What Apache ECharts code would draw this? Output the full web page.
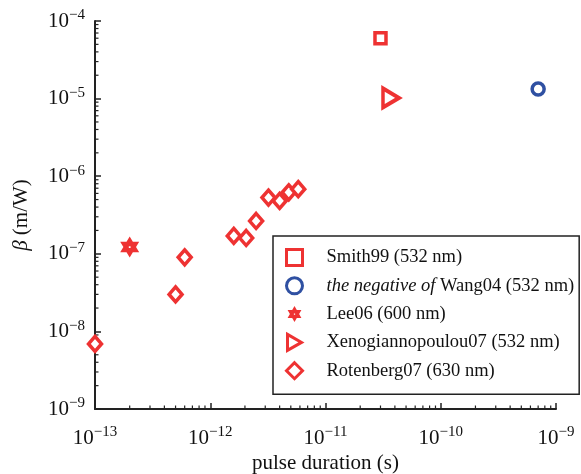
<!DOCTYPE html>
<html>
<head>
<meta charset="utf-8">
<script src="https://cdn.jsdelivr.net/npm/echarts@6/dist/echarts.min.js"></script>
<style>
  html, body { margin: 0; padding: 0; background: #fff; }
  #main { width: 581px; height: 474px; }
</style>
</head>
<body>
<div id="main"></div>
<script>
// pulse duration (s) vs beta (m/W)
var smith99 = [[3.0e-11, 6.0e-5]];
var wang04 = [[7.0e-10, 1.33e-5]];
var lee06 = [[2.0e-13, 1.22e-7]];
var xeno07 = [[3.7e-11, 1.02e-5]];
var rotenberg07 = [
    [1.0e-13, 6.9e-9],
    [5.0e-13, 3.0e-8],
    [6.0e-13, 9.0e-8],
    [1.6e-12, 1.7e-7],
    [2.05e-12, 1.6e-7],
    [2.5e-12, 2.65e-7],
    [3.2e-12, 5.3e-7],
    [4.0e-12, 4.8e-7],
    [4.8e-12, 6.2e-7],
    [5.8e-12, 6.8e-7]
];
var seriesNames = ['Smith99 (532 nm)', 'the negative of Wang04 (532 nm)', 'Lee06 (600 nm)',
    'Xenogiannopoulou07 (532 nm)', 'Rotenberg07 (630 nm)'];
var xMin = 1e-13, xMax = 1e-9, yMin = 1e-9, yMax = 1e-4;
// minor log ticks: decades x multipliers
var xDecades = [1e-13, 1e-12, 1e-11, 1e-10];
var yDecades = [1e-9, 1e-8, 1e-7, 1e-6, 1e-5];
var minorMult = [2, 3, 4, 5, 6, 7, 8, 9];

var red = '#ee3232';
var blue = '#2f50a2';
var serif = 'Liberation Serif';
var hexagram = 'path://M10 0 L12.89 5 L18.66 5 L15.77 10 L18.66 15 L12.89 15 L10 20 L7.11 15 L1.34 15 L4.23 10 L1.34 5 L7.11 5 Z M9.2 9.2 L9.2 10.8 L10.8 10.8 L10.8 9.2 Z';
var triRight = 'path://M0 0 L14 8 L0 16 Z';

var xMinor = [], yMinor = [];
xDecades.forEach(function (d) { minorMult.forEach(function (m) { xMinor.push([d * m, yMin]); }); });
yDecades.forEach(function (d) { minorMult.forEach(function (m) { yMinor.push([xMin, d * m]); }); });

function powLabel(v) {
    var e = Math.round(Math.log10(v));
    return '{b|10}{s|' + (e < 0 ? '\u2212' : '') + Math.abs(e) + '}';
}
var labelRich = {
    b: { fontFamily: serif, fontSize: 21, lineHeight: 26, color: '#111' },
    s: { fontFamily: serif, fontSize: 15, lineHeight: 19, color: '#111', verticalAlign: 'top' }
};

var legendData = seriesNames.map(function (n) {
    // the star keeps its own filled look in the legend
    return n.indexOf('Lee06') === 0 ? { name: n, itemStyle: { borderWidth: 0 } } : { name: n };
});

var myChart = echarts.init(document.getElementById('main'), null, { renderer: 'canvas' });

myChart.setOption({
    backgroundColor: '#fff',
    animation: false,
    grid: { left: 95, right: 25, top: 21, bottom: 65, outerBoundsMode: 'none', containLabel: false },
    xAxis: {
        type: 'log', logBase: 10, min: xMin, max: xMax,
        name: 'pulse duration (s)', nameLocation: 'middle', nameGap: 42,
        nameTextStyle: { fontFamily: serif, fontSize: 21, color: '#111' },
        axisLine: { lineStyle: { color: '#222', width: 2 } },
        axisTick: { inside: true, length: 6, lineStyle: { color: '#222', width: 1.5 } },
        axisLabel: { margin: 16, formatter: powLabel, rich: labelRich },
        splitLine: { show: false }
    },
    yAxis: {
        type: 'log', logBase: 10, min: yMin, max: yMax,
        name: '{i|β} (m/W)', nameLocation: 'middle', nameGap: 63,
        nameTextStyle: { fontFamily: serif, fontSize: 21, color: '#111',
            rich: { i: { fontFamily: serif, fontSize: 21, fontStyle: 'italic', color: '#111' } } },
        axisLine: { lineStyle: { color: '#222', width: 2 } },
        axisTick: { inside: true, length: 6, lineStyle: { color: '#222', width: 1.5 } },
        axisLabel: { margin: 10, formatter: powLabel, rich: labelRich },
        splitLine: { show: false }
    },
    legend: {
        data: legendData,
        orient: 'vertical',
        left: 273, top: 236,
        padding: [12, 5, 14, 12],
        itemGap: 9.3,
        itemWidth: 16, itemHeight: 16,
        borderColor: '#222', borderWidth: 1.5,
        backgroundColor: '#fff',
        itemStyle: { borderWidth: 3 },
        textStyle: { fontFamily: serif, fontSize: 18.5, lineHeight: 18, color: '#111', padding: [0, 0, 0, 19],
            rich: { i: { fontFamily: serif, fontSize: 18.5, fontStyle: 'italic', color: '#111' } } },
        formatter: function (name) {
            var pre = 'the negative of ';
            if (name.indexOf(pre) === 0) return '{i|the negative of} ' + name.slice(pre.length);
            return name;
        }
    },
    series: [
        {
            type: 'custom', name: 'xminor', silent: true, z: 1,
            data: xMinor,
            renderItem: function (params, api) {
                var p = api.coord([api.value(0), api.value(1)]);
                return { type: 'line', shape: { x1: p[0], y1: p[1], x2: p[0], y2: p[1] - 3.5 },
                    style: { stroke: '#222', lineWidth: 1.2 } };
            }
        },
        {
            type: 'custom', name: 'yminor', silent: true, z: 1,
            data: yMinor,
            renderItem: function (params, api) {
                var p = api.coord([api.value(0), api.value(1)]);
                return { type: 'line', shape: { x1: p[0], y1: p[1], x2: p[0] + 3.5, y2: p[1] },
                    style: { stroke: '#222', lineWidth: 1.2 } };
            }
        },
        {
            type: 'scatter', name: seriesNames[0], data: smith99,
            symbol: 'rect', symbolSize: 11,
            itemStyle: { color: '#fff', borderColor: red, borderWidth: 3.5, opacity: 1 }
        },
        {
            type: 'scatter', name: seriesNames[1], data: wang04,
            symbol: 'circle', symbolSize: 12,
            itemStyle: { color: '#fff', borderColor: blue, borderWidth: 3.5, opacity: 1 }
        },
        {
            type: 'scatter', name: seriesNames[2], data: lee06,
            symbol: hexagram, symbolSize: [19, 21], symbolKeepAspect: false,
            itemStyle: { color: red, borderColor: red, borderWidth: 0, opacity: 1 }
        },
        {
            type: 'scatter', name: seriesNames[3], data: xeno07,
            symbol: triRight, symbolSize: [16, 19],
            itemStyle: { color: '#fff', borderColor: red, borderWidth: 3.8, opacity: 1 }
        },
        {
            type: 'scatter', name: seriesNames[4], data: rotenberg07,
            symbol: 'diamond', symbolSize: [13, 15],
            itemStyle: { color: '#fff', borderColor: red, borderWidth: 3.5, opacity: 1 }
        }
    ]
});
</script>
</body>
</html>
